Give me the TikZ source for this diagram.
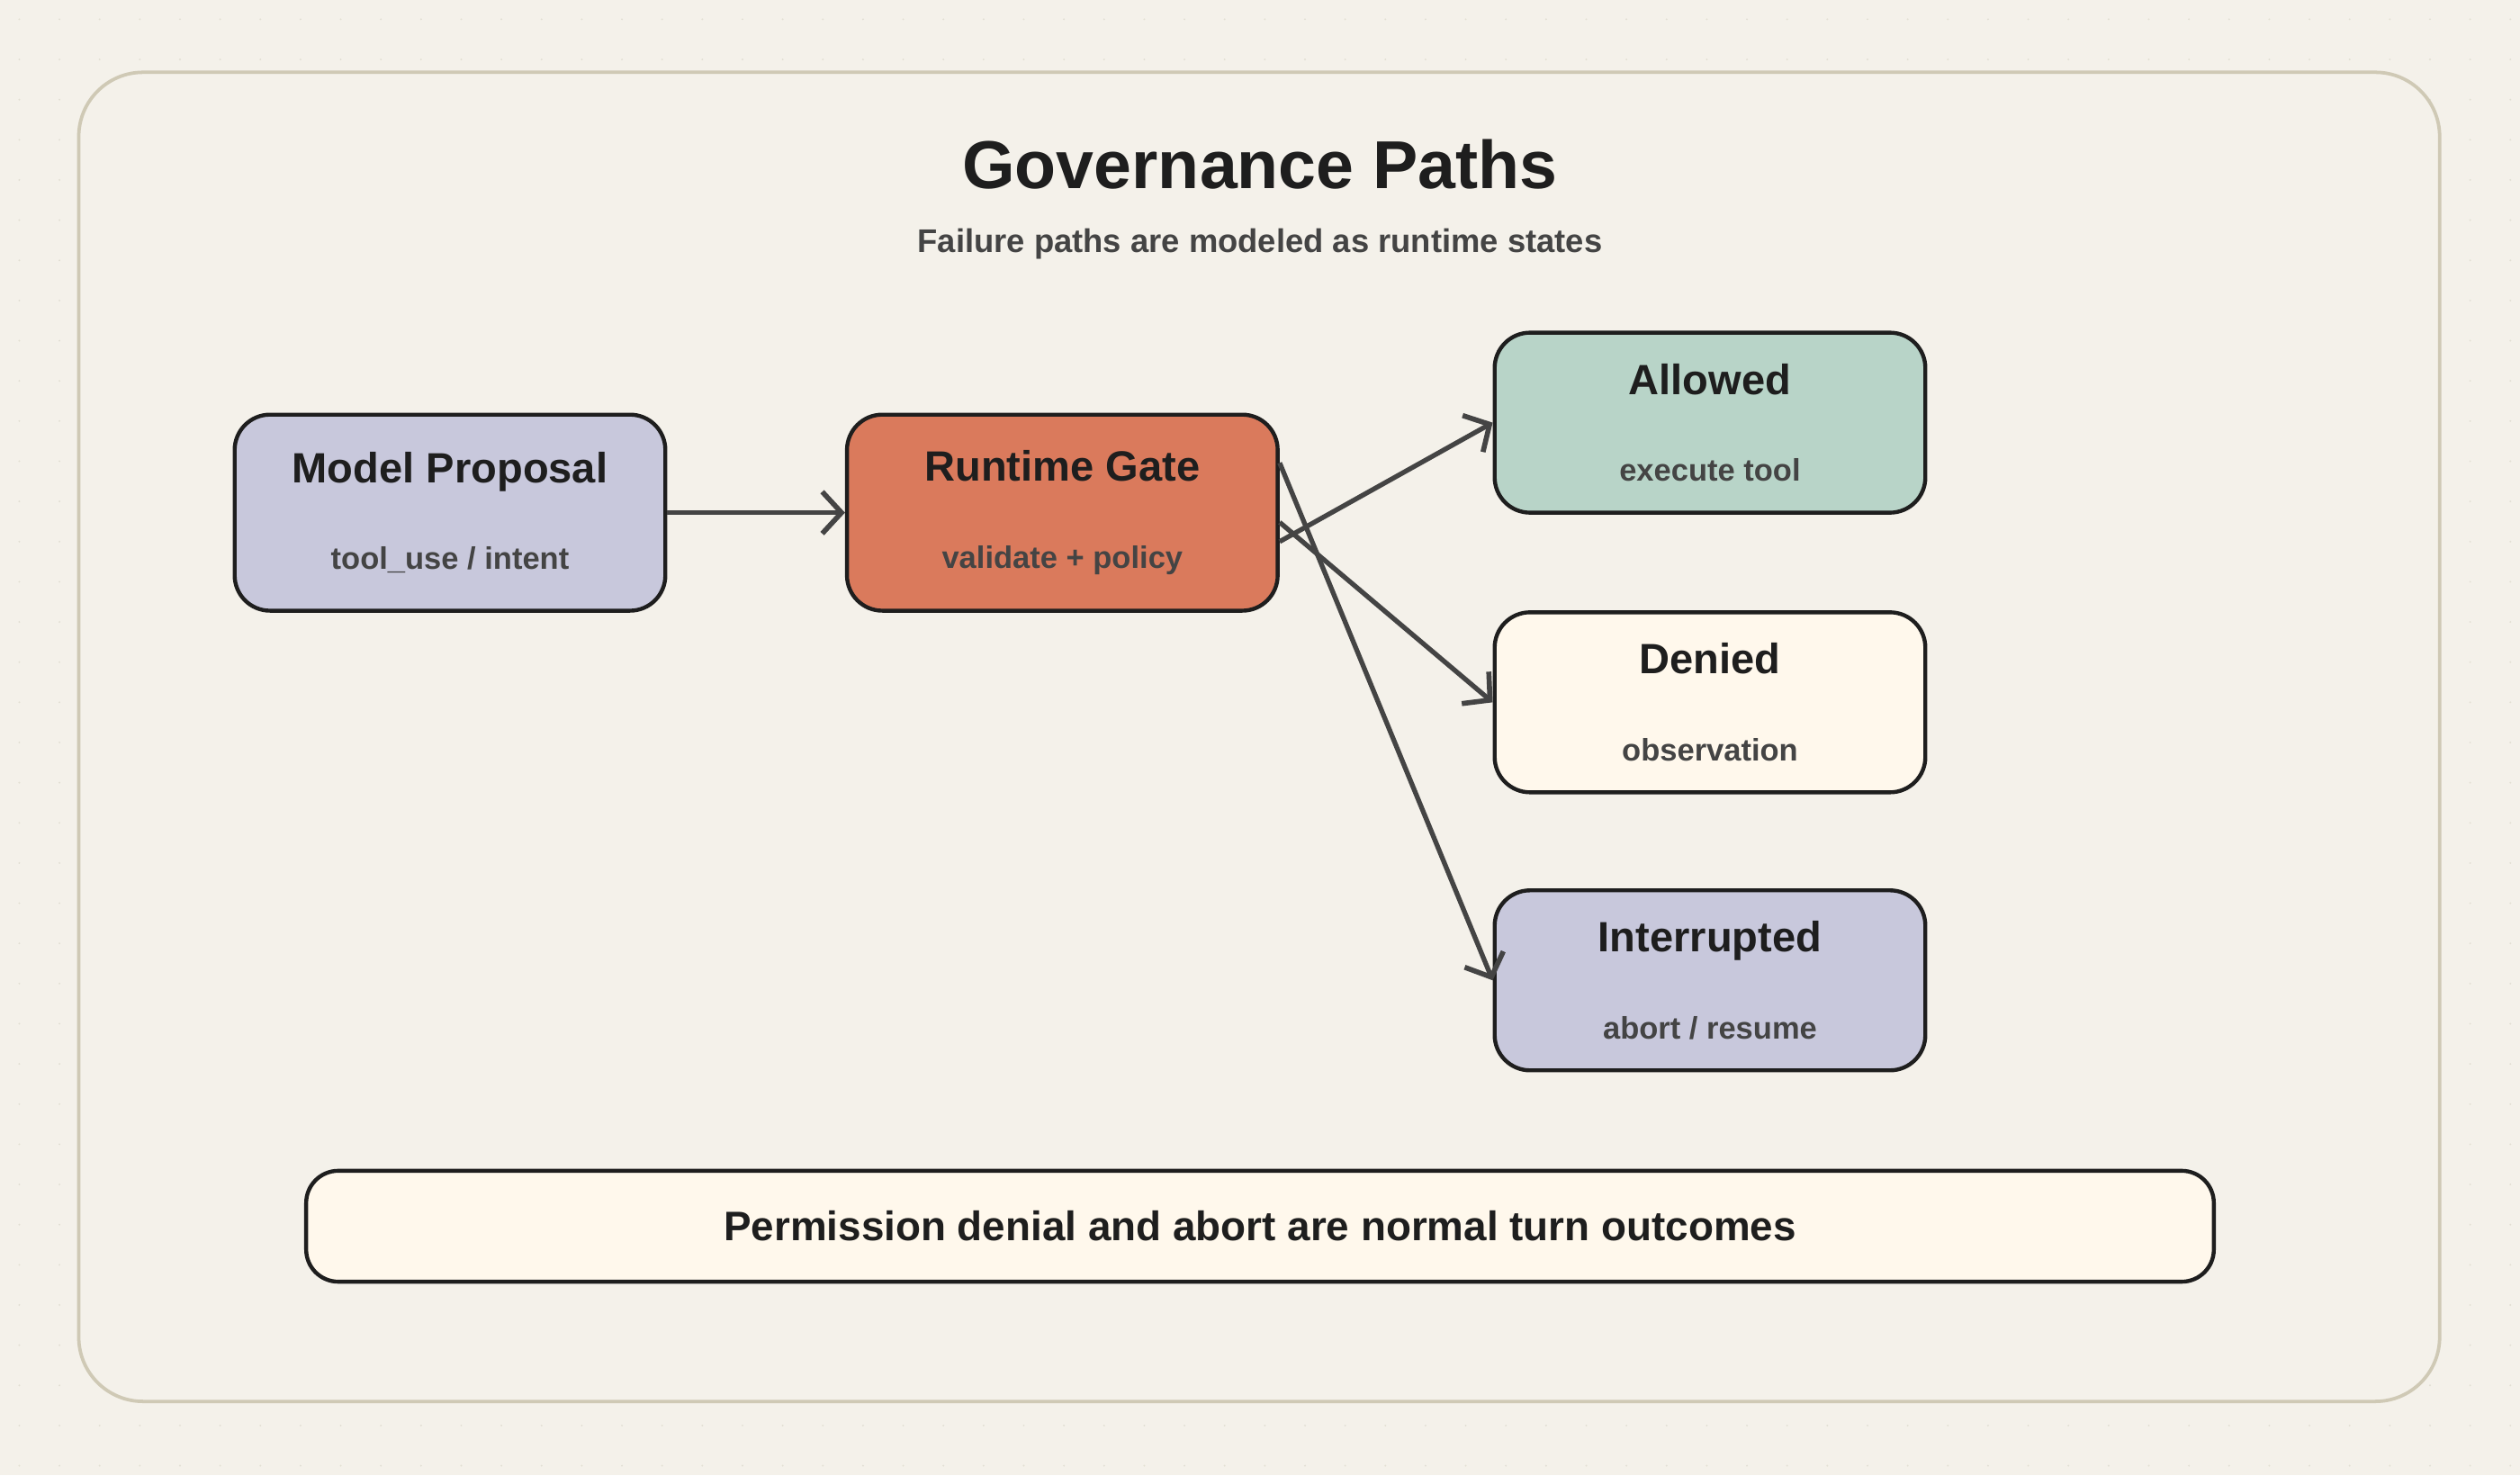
\documentclass[tikz,border=0pt]{standalone}
\usepackage{fontspec}
\setmainfont{Liberation Sans}
\usetikzlibrary{arrows.meta}
\definecolor{paper}{HTML}{F4F1EA}
\definecolor{frame}{HTML}{CFC9B5}
\definecolor{lilac}{HTML}{C8C8DC}
\definecolor{clay}{HTML}{DA7A5C}
\definecolor{sage}{HTML}{B8D4C8}
\definecolor{cream}{HTML}{FFF8EC}
\definecolor{ink}{HTML}{1E1E1E}
\definecolor{wire}{HTML}{444444}
\tikzset{
  state/.style = {draw=ink, line width=0.7pt, rounded corners=0.22cm,
    minimum width=2.68cm, align=center, text=ink, inner sep=0pt},% state box
  flow/.style = {draw=wire, line width=0.85pt,
    -{Straight Barb[length=1.2mm,width=2.6mm,line width=0.9pt]}}% connector
}
\newcommand{\stxt}[2]{{\fontsize{7.5}{9}\selectfont\bfseries #1}\\[1.2mm]%
  {\fontsize{5.5}{7}\selectfont\bfseries\color{wire}#2}}
\begin{document}
\begin{tikzpicture}[x=0.1mm,y=-0.1mm]
\useasboundingbox (0,0) rectangle (1568,918);
\fill[paper] (0,0) rectangle (1568,918);
\foreach \i in {0,...,62}
  \foreach \j in {0,...,36}
    \fill[frame!60] (12+25*\i,12+25*\j) circle (0.06mm);
\draw[frame, fill=paper, line width=0.6pt, rounded corners=0.4cm] (49,45) rectangle (1518,872);
\node (title) at (784,102) {\fontsize{12}{14}\selectfont\bfseries\color{ink}Governance Paths};
\node (subtitle) at (784,152) {\fontsize{5.8}{7}\selectfont\bfseries\color{wire}Failure paths are modeled as runtime states};
% states
\node[state, fill=lilac, minimum height=1.22cm] (proposal) at (280,319) {\stxt{Model Proposal}{tool\_use / intent}};
\node[state, fill=clay, minimum height=1.22cm] (gate) at (661,319) {\stxt{Runtime Gate}{validate + policy}};
\node[state, fill=sage, minimum height=1.12cm] (allowed) at (1064,263) {\stxt{Allowed}{execute tool}};
\node[state, fill=cream, minimum height=1.12cm] (denied) at (1064,437) {\stxt{Denied}{observation}};
\node[state, fill=lilac, minimum height=1.12cm] (interrupted) at (1064,610) {\stxt{Interrupted}{abort / resume}};
% connectors
\draw[flow] (proposal.east) -- (gate.west);
\draw[flow] ([yshift=-1.8mm]gate.east) -- ([yshift=0mm]allowed.west);
\draw[flow] ([yshift=-0.6mm]gate.east) -- (denied.west);
\draw[flow] ([yshift=3.1mm]gate.east) -- (interrupted.west);
% footer
\node[state, fill=cream, minimum width=11.87cm, minimum height=0.69cm, rounded corners=0.2cm] (note) at (784,763)
  {\fontsize{7.3}{9}\selectfont\bfseries Permission denial and abort are normal turn outcomes};
\end{tikzpicture}
\end{document}
